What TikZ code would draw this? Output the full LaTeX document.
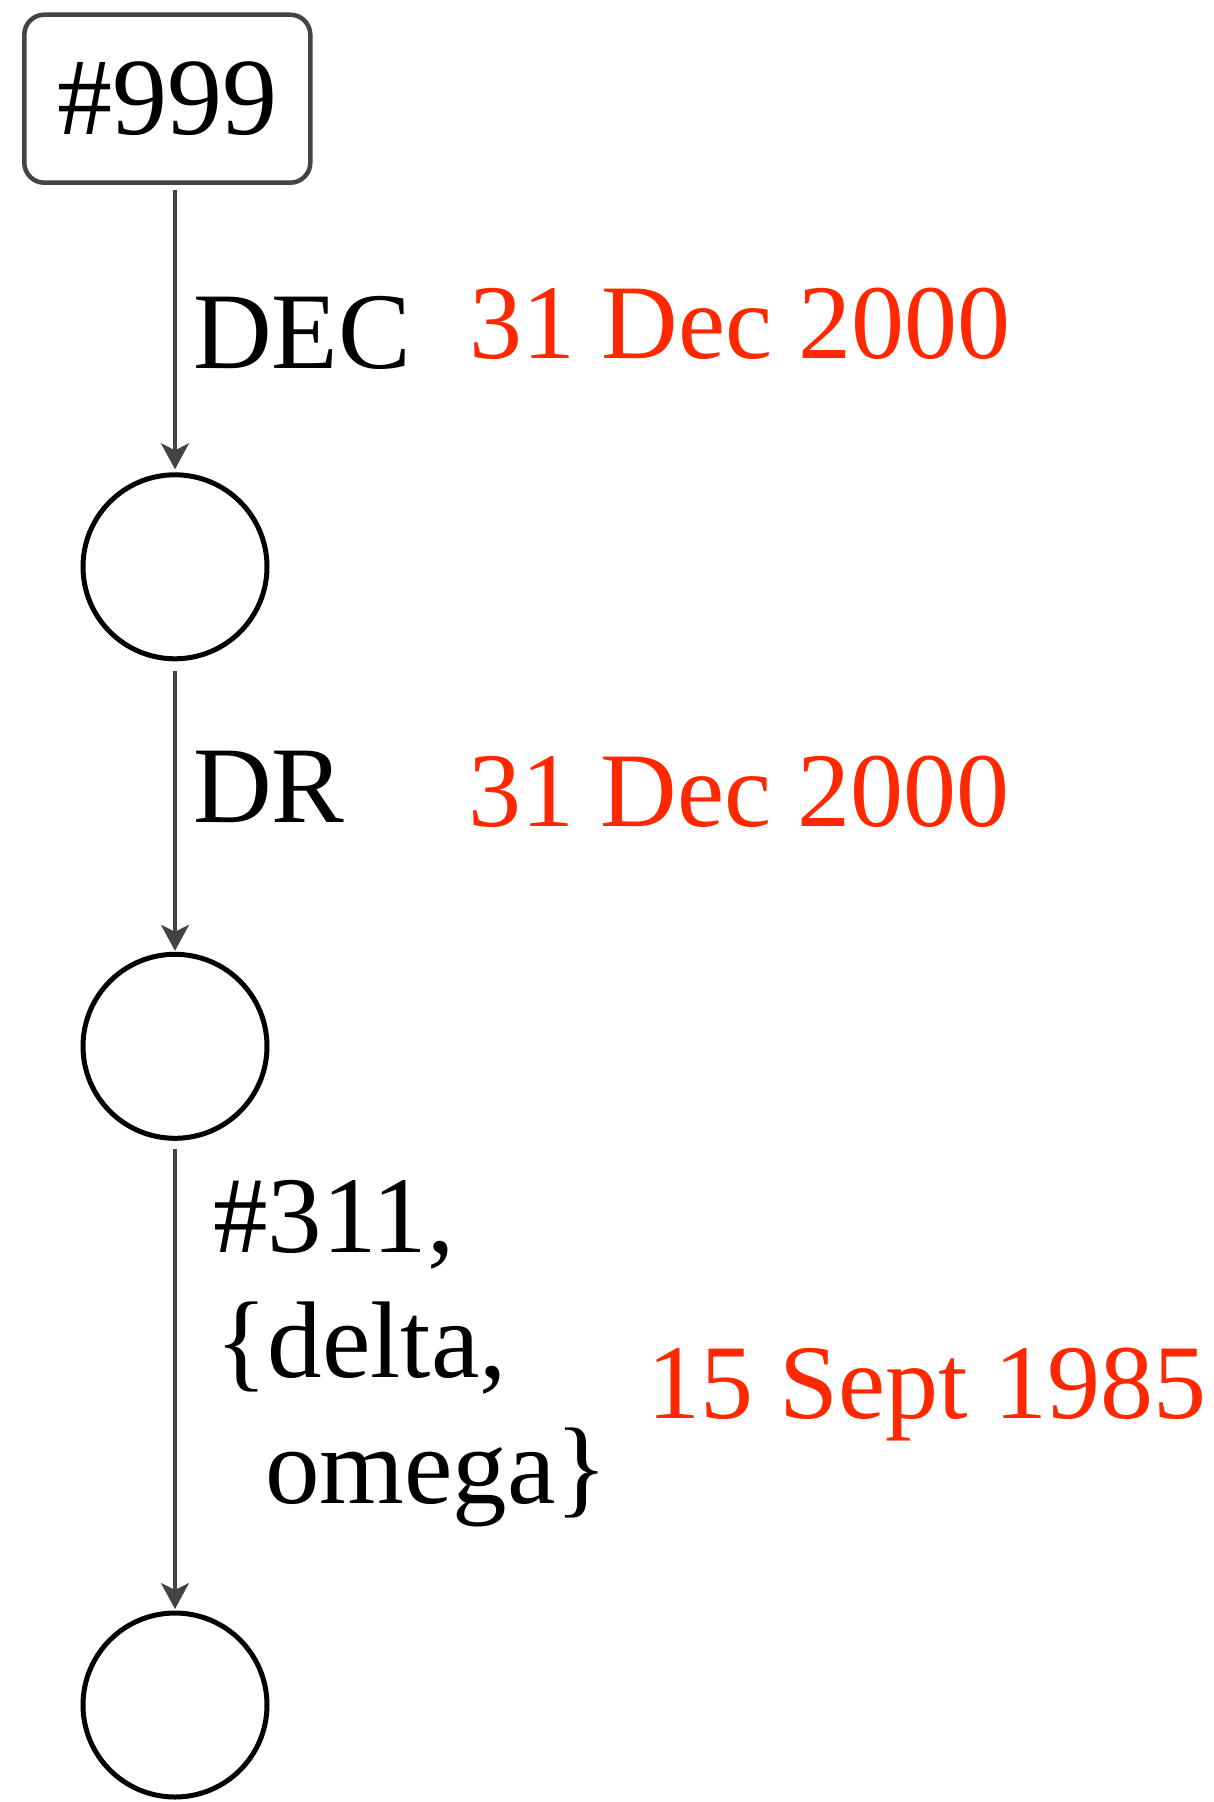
\documentclass[tikz,border=0pt]{standalone}
\usepackage{fontspec}
\setmainfont{Liberation Serif}
\usetikzlibrary{arrows.meta}
\definecolor{edgegray}{HTML}{444444}
\definecolor{datered}{RGB}{255,40,0}
\tikzset{
  state/.style={circle, draw=black, line width=5pt, minimum size=184pt, inner sep=0pt},
  idbox/.style={draw=edgegray, line width=4.5pt, rounded corners=20pt, minimum width=286pt, minimum height=168pt, inner sep=0pt, font=\fontsize{110}{125}\selectfont},
  lbl/.style={inner sep=0pt, anchor=base west, font=\fontsize{109}{125.5}\selectfont},
  datelbl/.style={inner sep=0pt, anchor=base west, text=datered, font=\fontsize{106}{125}\selectfont},
  conn/.style={draw=edgegray, line width=3.5pt, -{Stealth[length=26pt, width=28pt, inset=7pt]}},
}
\begin{document}
\begin{tikzpicture}[x=1pt,y=-1pt]
\useasboundingbox (0,0) rectangle (1214,1802);
\node[idbox] (box) at (167.3,98.7) {\#999};
\node[state] (c1) at (175,566.8) {};
\node[state] (c2) at (175,1046.3) {};
\node[state] (c3) at (175,1705) {};
\draw[conn, shorten <=5.5pt, shorten >=3pt] (box.south -| c1.center) -- (c1.north);
\draw[conn, shorten <=10pt, shorten >=1pt] (c1.south) -- (c2.north);
\draw[conn, shorten <=7.7pt, shorten >=1.5pt] (c2.south) -- (c3.north);
\node[lbl] (l1) at (193,368) {DEC};
\node[lbl] (l2) at (193,822) {DR};
\node[lbl, align=left] (l3) at (213,1503) {\#311,\\\hspace*{2pt}\{delta,\\\hspace*{52pt}omega\}};
\node[datelbl] (d1) at (469,358) {31 Dec 2000};
\node[datelbl] (d2) at (468,826) {31 Dec 2000};
\node[datelbl] (d3) at (647,1418) {15 Sept 1985};
\end{tikzpicture}
\end{document}
